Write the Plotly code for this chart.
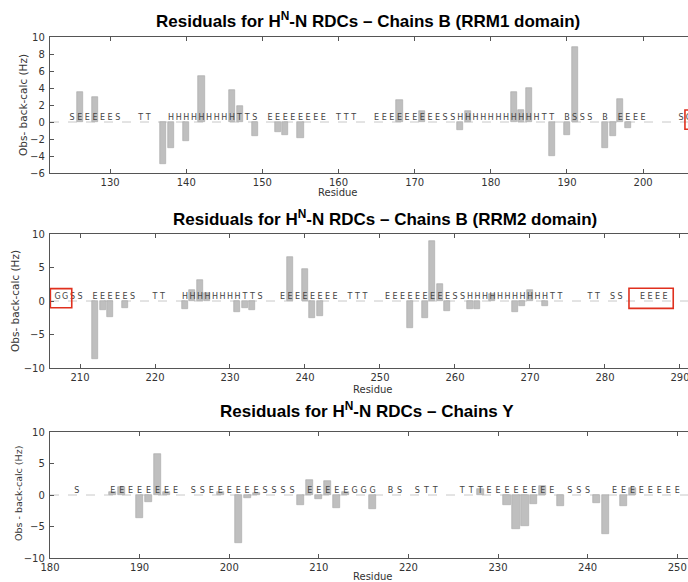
import plotly.graph_objects as go

W, H = 688, 582

# ---------------- data ----------------
# Panel 1: Chains B (RRM1 domain)
rrm1_residue = [126, 128, 137, 138, 140, 142, 146, 147, 149, 152, 153, 155,
                168, 171, 176, 177, 183, 184, 185, 188, 190, 191, 195, 196, 197, 198]
rrm1_resid = [3.5, 3.0, -4.9, -3.0, -2.2, 5.4, 3.8, 1.9, -1.7, -1.2, -1.5, -1.85,
              2.6, 1.3, -0.9, 1.25, 3.55, 1.4, 4.0, -4.05, -1.5, 8.85, -3.05, -1.6, 2.75, -0.7]
rrm1_ss_first = 122
rrm1_ss = ("   " + "SEEEEES" + "  " + "TT" + "  " + "HHHHHHHHH" + "TTS" + " " + "EEEEEEEE" + " " +
           "TTT" + "  " + "EEEEEEEEE" + "SS" + "HHHHHHHHHHH" + "TT" + " " + "BSSS" + " " + "B" + " " +
           "EEEE" + "    " + "SG")

# Panel 2: Chains B (RRM2 domain)
rrm2_residue = [212, 213, 214, 216, 224, 225, 226, 227, 231, 232, 233, 238, 240, 241, 242,
                254, 256, 257, 258, 259, 262, 263, 265, 268, 269, 270, 272]
rrm2_resid = [-8.7, -1.4, -2.4, -1.1, -1.2, 1.6, 3.2, 1.2, -1.7, -1.0, -1.4, 6.5, 4.85, -2.5, -2.3,
              -4.0, -2.6, 9.0, 2.6, -1.5, -1.2, -1.2, 1.1, -1.7, -0.8, 1.6, -0.7]
rrm2_ss_first = 206
rrm2_ss = (" " + "GGSS" + " " + "EEEEES" + "  " + "TT" + "  " + "HHHHHHHH" + "TTS" + "  " + "EEEEEEEE" + " " +
           "TTT" + "  " + "EEEEEEEEE" + "SS" + "HHHHHHHHHHH" + "TT" + "   " + "TT" + " " + "SS" + "  " + "EEEE")

# Panel 3: Chains Y
chy_residue = [187, 188, 190, 191, 192, 193, 199, 201, 202, 203, 208, 209, 210, 211, 212, 213,
               216, 228, 231, 232, 233, 234, 235, 237, 241, 242, 244, 245]
chy_resid = [0.45, 1.25, -3.6, -1.05, 6.5, 0.4, 0.4, -7.6, -0.5, 0.35, -1.6, 2.4, -0.6, 2.3, -2.0, 0.4,
             -2.3, 0.9, -1.6, -5.4, -4.9, -1.5, 1.5, -1.7, -1.2, -6.2, -1.8, 1.05]
chy_ss_first = 180
chy_ss = ("   " + "S" + "   " + "EEEEEEEE" + " " + "SS" + "EEEEEE" + "SSSS" + " " + "EEEEE" + "GGG" + " " +
          "BS" + " " + "STT" + "  " + "TTT" + "EEEEEEEE" + " " + "SSS" + "  " + "EEEEEEEE")

titles = ["Residuals for H<sup>N</sup>-N RDCs – Chains B (RRM1 domain)",
          "Residuals for H<sup>N</sup>-N RDCs – Chains B (RRM2 domain)",
          "Residuals for H<sup>N</sup>-N RDCs – Chains Y"]
ylabels = ["Obs- back-calc (Hz)", "Obs- back-calc (Hz)", "Obs - back-calc (Hz)"]
xlabel = "Residue"

# ---------------- layout helpers ----------------
def fx(p):
    return p / W

def fy(p):
    return 1 - p / H

panels = [
    dict(res=rrm1_residue, val=rrm1_resid, ss=rrm1_ss, ss0=rrm1_ss_first,
         xr=[122.1, 205.9], yr=[-6, 10], dty=2, top=37, bot=173,
         tpos=(368, 20), xlpos=(337, 193), ylpos=(23, 105), ylsize=10.5),
    dict(res=rrm2_residue, val=rrm2_resid, ss=rrm2_ss, ss0=rrm2_ss_first,
         xr=[206.0, 291.07], yr=[-10, 10], dty=5, top=234, bot=368,
         tpos=(385, 218), xlpos=(372, 389), ylpos=(15, 301), ylsize=10.5),
    dict(res=chy_residue, val=chy_resid, ss=chy_ss, ss0=chy_ss_first,
         xr=[180, 251.2], yr=[-10, 10], dty=5, top=432, bot=558,
         tpos=(367, 410), xlpos=(372, 576), ylpos=(18, 494), ylsize=9.5),
]

fig = go.Figure()
axis_font = dict(family="DejaVu Sans", size=10, color="#333333")
common = dict(showline=True, linecolor="#555555", linewidth=1.3, ticks="inside", ticklen=4,
              tickcolor="#555555", tickfont=axis_font, showgrid=False, zeroline=False,
              automargin=False, ticklabeloverflow="allow")

annotations = []
shapes = []
for i, p in enumerate(panels, start=1):
    sfx = "" if i == 1 else str(i)
    xa, ya = "x" + sfx, "y" + sfx
    fig.add_trace(go.Bar(x=p["res"], y=p["val"], width=0.8,
                         marker=dict(color="#bfbfbf", line=dict(color="#a6a6a6", width=0.6)),
                         xaxis=xa, yaxis=ya, showlegend=False, hoverinfo="skip"))
    xs = [p["ss0"] + k for k, ch in enumerate(p["ss"]) if ch != " "]
    ts = [ch for ch in p["ss"] if ch != " "]
    fig.add_trace(go.Scatter(x=xs, y=[0] * len(xs), text=ts, mode="text", textposition="top center",
                             textfont=dict(family="DejaVu Sans", size=8, color="#444444"),
                             marker=dict(size=1), xaxis=xa, yaxis=ya, showlegend=False,
                             hoverinfo="skip", cliponaxis=True))
    shapes.append(dict(type="line", xref=xa + " domain", yref=ya, x0=0, x1=1, y0=0, y1=0,
                       line=dict(color="#c8c8c8", width=1, dash="dash"), layer="below"))
    fig.layout["xaxis" + sfx] = dict(domain=[fx(50), 1], range=p["xr"], anchor=ya, dtick=10, tick0=0,
                                      mirror="ticks", **common)
    fig.layout["yaxis" + sfx] = dict(domain=[fy(p["bot"]), fy(p["top"])], range=p["yr"], anchor=xa,
                                      dtick=p["dty"], tick0=0, ticklabelstandoff=2, **common)
    annotations.append(dict(text=titles[i - 1], x=fx(p["tpos"][0]), y=fy(p["tpos"][1]), xref="paper",
                            yref="paper", showarrow=False, xanchor="center", yanchor="middle",
                            font=dict(family="Liberation Sans", size=17, color="#000000", weight="bold")))
    annotations.append(dict(text=xlabel, x=fx(p["xlpos"][0]), y=fy(p["xlpos"][1]), xref="paper",
                            yref="paper", showarrow=False, xanchor="center", yanchor="middle",
                            font=dict(family="DejaVu Sans", size=10, color="#333333")))
    annotations.append(dict(text=ylabels[i - 1], x=fx(p["ylpos"][0]), y=fy(p["ylpos"][1]), xref="paper",
                            yref="paper", showarrow=False, xanchor="center", yanchor="middle", textangle=-90,
                            font=dict(family="DejaVu Sans", size=p["ylsize"], color="#333333")))

# red highlight boxes
red = dict(color="#e0301e", width=1.6)
shapes.append(dict(type="rect", xref="x", yref="y", x0=205.5, x1=208, y0=-0.86, y1=1.41, line=red))
shapes.append(dict(type="rect", xref="x2", yref="y2", x0=206.05, x1=208.9, y0=-1.0, y1=1.84, line=red))
shapes.append(dict(type="rect", xref="x2", yref="y2", x0=283.2, x1=289.1, y0=-1.1, y1=1.9, line=red))

fig.update_layout(width=W, height=H, autosize=False, margin=dict(l=0, r=0, t=0, b=0, pad=0),
                  paper_bgcolor="white", plot_bgcolor="white", bargap=0,
                  annotations=annotations, shapes=shapes)

fig.write_html("out.html", config={"displayModeBar": False},
               post_script="document.body.style.margin='0px';")
